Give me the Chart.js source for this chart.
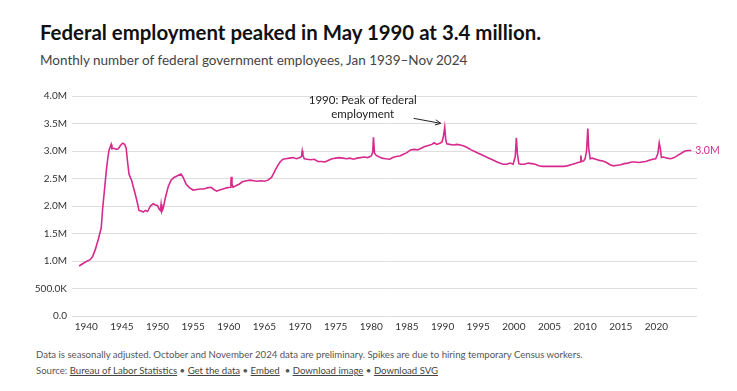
<!DOCTYPE html>
<html>
<head>
<meta charset="utf-8">
<script src="https://cdn.jsdelivr.net/npm/chart.js@4"></script>
<style>
  body { margin: 0; width: 737px; height: 391px; background: #fff; font-family: Lato, sans-serif; overflow: hidden; position: relative; }
  h1 { position: absolute; left: 40px; top: 20px; margin: 0; font-size: 20.4px; font-weight: 700; color: #111; }
  .sub { position: absolute; left: 40px; top: 52px; font-size: 13.5px; color: #444; }
  #wrap { position: absolute; left: 0; top: 85px; width: 737px; height: 258px; }
  .foot { position: absolute; left: 36px; font-size: 9.6px; color: #555; }
  .foot a { color: #444; text-decoration: underline; }
</style>
</head>
<body>
<h1>Federal employment peaked in May 1990 at 3.4 million.</h1>
<div class="sub">Monthly number of federal government employees, Jan 1939–Nov 2024</div>
<div id="wrap"><canvas id="chart"></canvas></div>
<div class="foot" style="top:349px">Data is seasonally adjusted. October and November 2024 data are preliminary. Spikes are due to hiring temporary Census workers.</div>
<div class="foot" style="top:365px">Source: <a>Bureau of Labor Statistics</a> • <a>Get the data</a> • <a>Embed</a> &nbsp;• <a>Download image</a> • <a>Download SVG</a></div>
<script>
// decimal year -> federal employees (millions)
const years = [
  1939.0,1939.5,1940.0,1940.5,1940.9,1941.3,1941.7,1942.1,1942.3,1942.6,1942.8,1943.0,1943.2,1943.5,1943.6,1943.9,
  1944.2,1944.5,1944.8,1945.1,1945.4,1945.6,1945.8,1946.0,1946.4,1946.9,1947.1,1947.4,1947.7,1948.0,1948.3,1948.6,
  1949.0,1949.4,1949.7,1950.0,1950.2,1950.4,1950.5,1950.6,1950.8,1951.1,1951.5,1951.9,1952.3,1952.8,1953.3,1953.6,
  1954.0,1954.5,1955.0,1955.5,1956.0,1956.5,1957.0,1957.5,1957.9,1958.3,1958.7,1959.2,1959.7,1960.2,1960.3,1960.35,
  1960.45,1960.6,1961.0,1961.5,1961.9,1962.5,1963.0,1963.5,1964.0,1964.5,1965.0,1965.5,1966.0,1966.4,1966.8,1967.2,
  1967.6,1968.0,1968.5,1969.0,1969.5,1970.0,1970.2,1970.3,1970.4,1970.6,1971.0,1971.5,1972.0,1972.5,1973.0,1973.5,
  1974.0,1974.5,1975.0,1975.5,1976.0,1976.5,1977.0,1977.5,1978.0,1978.5,1979.0,1979.5,1980.0,1980.2,1980.3,1980.45,
  1980.7,1981.0,1981.5,1982.0,1982.6,1983.0,1983.5,1984.0,1984.5,1985.0,1985.5,1986.0,1986.5,1987.0,1987.5,1988.0,
  1988.5,1988.8,1989.2,1989.6,1989.9,1990.1,1990.3,1990.45,1990.6,1991.0,1991.5,1992.0,1992.5,1993.0,1993.5,1994.0,
  1994.5,1995.0,1995.5,1996.0,1996.5,1997.0,1997.5,1998.0,1998.5,1999.0,1999.5,1999.9,2000.2,2000.35,2000.5,2000.7,
  2001.0,2001.5,2002.0,2002.5,2003.0,2003.5,2004.0,2004.5,2005.0,2005.5,2006.0,2006.5,2007.0,2007.5,2008.0,2008.5,
  2009.0,2009.3,2009.4,2009.5,2009.8,2010.0,2010.2,2010.38,2010.5,2010.7,2011.0,2011.5,2012.0,2012.5,2013.0,2013.5,
  2014.0,2014.5,2015.0,2015.5,2016.0,2016.5,2017.0,2017.5,2018.0,2018.5,2019.0,2019.5,2019.9,2020.2,2020.4,2020.55,
  2020.7,2021.0,2021.5,2022.0,2022.5,2023.0,2023.5,2024.0,2024.5,2024.9
];
const employees = [
  0.91,0.95,0.99,1.02,1.08,1.22,1.40,1.60,1.95,2.35,2.62,2.85,3.02,3.12,3.04,3.05,
  3.03,3.04,3.10,3.14,3.12,3.05,2.80,2.58,2.45,2.20,2.10,1.92,1.91,1.89,1.92,1.90,
  2.00,2.04,2.02,2.01,1.95,1.92,2.03,1.90,1.96,2.15,2.35,2.47,2.52,2.55,2.58,2.52,
  2.40,2.33,2.29,2.30,2.31,2.31,2.33,2.34,2.30,2.27,2.29,2.31,2.33,2.34,2.44,2.53,
  2.40,2.34,2.37,2.40,2.44,2.46,2.47,2.46,2.45,2.46,2.45,2.47,2.52,2.62,2.72,2.80,
  2.85,2.86,2.87,2.88,2.86,2.88,2.90,3.00,2.92,2.86,2.85,2.84,2.85,2.81,2.81,2.80,
  2.83,2.86,2.87,2.88,2.87,2.86,2.87,2.85,2.87,2.88,2.89,2.88,2.91,2.98,3.25,2.96,
  2.92,2.90,2.87,2.86,2.85,2.88,2.90,2.91,2.94,2.97,3.02,3.03,3.02,3.05,3.08,3.10,
  3.12,3.15,3.12,3.14,3.16,3.25,3.43,3.20,3.13,3.12,3.11,3.12,3.11,3.09,3.06,3.02,
  2.99,2.96,2.93,2.90,2.87,2.84,2.81,2.78,2.76,2.76,2.78,2.76,2.90,3.24,2.95,2.77,
  2.76,2.76,2.78,2.77,2.76,2.73,2.72,2.72,2.72,2.72,2.72,2.72,2.72,2.73,2.75,2.77,
  2.79,2.80,2.92,2.81,2.82,2.86,3.00,3.41,3.05,2.86,2.87,2.85,2.83,2.82,2.79,2.75,
  2.73,2.74,2.75,2.77,2.78,2.80,2.80,2.79,2.80,2.81,2.83,2.85,2.86,2.95,3.15,3.05,
  2.88,2.89,2.87,2.86,2.88,2.92,2.96,3.00,3.01,3.01
];
const xTicks = [1940,1945,1950,1955,1960,1965,1970,1975,1980,1985,1990,1995,2000,2005,2010,2015,2020];
const yTicks = [0,0.5,1,1.5,2,2.5,3,3.5,4];
const yTickLabels = ["0.0","500.0K","1.0M","1.5M","2.0M","2.5M","3.0M","3.5M","4.0M"];
const peak = { x: 1990.3, y: 3.43, lines: ["1990: Peak of federal", "employment"] };
const lastLabel = "3.0M";

const PINK = "#d62a8c";

const extras = {
  id: "extras",
  afterDatasetsDraw(chart) {
    const { ctx, scales: { x, y } } = chart;
    ctx.save();
    // annotation
    const px = x.getPixelForValue(peak.x), py = y.getPixelForValue(peak.y);
    ctx.fillStyle = "#222";
    ctx.font = "11.5px Lato";
    ctx.textAlign = "center";
    ctx.textBaseline = "middle";
    ctx.fillText(peak.lines[0], px - 82, py - 27);
    ctx.fillText(peak.lines[1], px - 82, py - 13);
    ctx.strokeStyle = "#222";
    ctx.lineWidth = 1;
    const ax0 = px - 31, ay0 = py - 9, ax1 = px - 4, ay1 = py - 4;
    ctx.beginPath(); ctx.moveTo(ax0, ay0); ctx.lineTo(ax1, ay1); ctx.stroke();
    const ang = Math.atan2(ay1 - ay0, ax1 - ax0);
    ctx.beginPath();
    ctx.moveTo(ax1 - 6 * Math.cos(ang - 0.45), ay1 - 6 * Math.sin(ang - 0.45));
    ctx.lineTo(ax1, ay1);
    ctx.lineTo(ax1 - 6 * Math.cos(ang + 0.45), ay1 - 6 * Math.sin(ang + 0.45));
    ctx.stroke();
    // end label
    const lx = x.getPixelForValue(years[years.length - 1]);
    const ly = y.getPixelForValue(employees[employees.length - 1]);
    ctx.fillStyle = PINK;
    ctx.font = "10.5px Lato";
    ctx.textAlign = "left";
    ctx.fillText(lastLabel, lx + 4, ly);
    ctx.restore();
  }
};

new Chart(document.getElementById("chart"), {
  type: "line",
  data: {
    datasets: [{
      data: years.map((v, i) => ({ x: v, y: employees[i] })),
      borderColor: PINK,
      borderWidth: 1.6,
      pointRadius: 0,
      tension: 0,
      fill: false
    }]
  },
  options: {
    responsive: true,
    maintainAspectRatio: false,
    animation: false,
    layout: { padding: { top: 7, right: 40, bottom: 5, left: 0 } },
    plugins: { legend: { display: false }, tooltip: { enabled: false } },
    scales: {
      x: {
        type: "linear",
        min: 1938,
        max: 2025.7,
        afterBuildTicks: axis => { axis.ticks = xTicks.map(v => ({ value: v })); },
        grid: { display: false, drawTicks: false },
        border: { display: false },
        ticks: { color: "#333", font: { family: "Lato", size: 10 }, padding: 5, maxRotation: 0, autoSkip: false, callback: v => String(v) }
      },
      y: {
        min: 0,
        max: 4,
        afterBuildTicks: axis => { axis.ticks = yTicks.map(v => ({ value: v })); },
        afterFit: axis => { axis.width = 72; },
        grid: { color: "#dedede", drawTicks: false, lineWidth: 1 },
        border: { display: false },
        ticks: { color: "#333", font: { family: "Lato", size: 10 }, padding: 5, callback: v => yTickLabels[yTicks.indexOf(v)] }
      }
    }
  },
  plugins: [extras]
});
</script>
</body>
</html>
